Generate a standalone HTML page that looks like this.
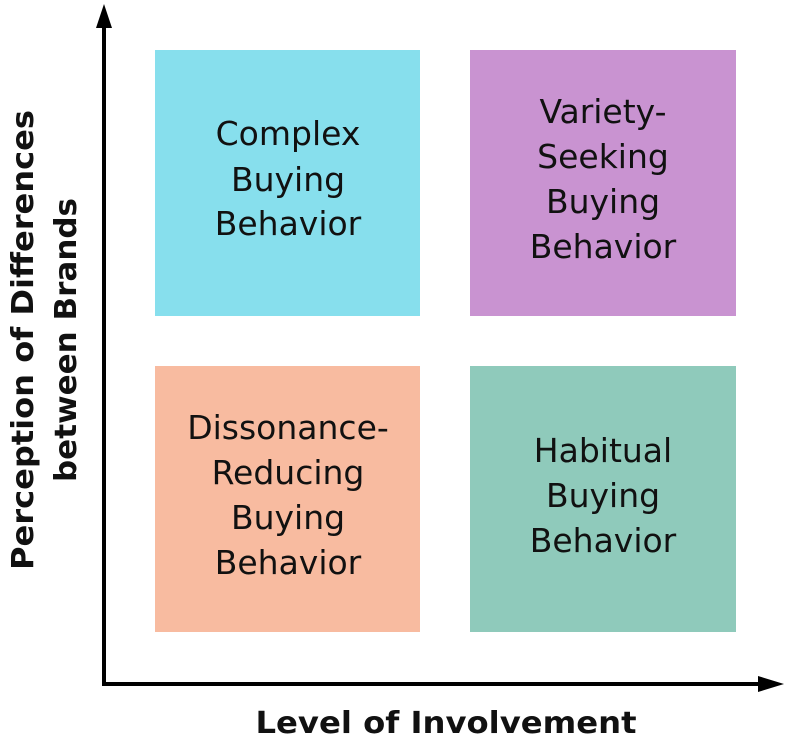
<!DOCTYPE html>
<html><head><meta charset="utf-8"><style>
html,body{margin:0;padding:0;background:#fff;}
svg{display:block;}
text{font-family:"DejaVu Sans","Liberation Sans",sans-serif;}
</style></head><body>
<svg width="787" height="751" viewBox="0 0 787 751">
<rect x="155" y="50" width="265" height="266" fill="#87dfed"/>
<rect x="470" y="50" width="266" height="266" fill="#c993d1"/>
<rect x="155" y="366" width="265" height="266" fill="#f8bba0"/>
<rect x="470" y="366" width="266" height="266" fill="#8fcabb"/>
<line x1="104" y1="684" x2="104" y2="25" stroke="#000" stroke-width="4"/>
<polygon points="104,4 96,28 112,28" fill="#000"/>
<line x1="102" y1="684" x2="760" y2="684" stroke="#000" stroke-width="4"/>
<polygon points="784,684 758,676 758,692" fill="#000"/>
<g font-size="33" fill="#111" text-anchor="middle">
<text x="288" y="145">Complex</text>
<text x="288" y="191">Buying</text>
<text x="288" y="235">Behavior</text>
<text x="603" y="123">Variety-</text>
<text x="603" y="168">Seeking</text>
<text x="603" y="213">Buying</text>
<text x="603" y="258">Behavior</text>
<text x="288" y="439">Dissonance-</text>
<text x="288" y="484">Reducing</text>
<text x="288" y="529">Buying</text>
<text x="288" y="574">Behavior</text>
<text x="603" y="462">Habitual</text>
<text x="603" y="507">Buying</text>
<text x="603" y="552">Behavior</text>
</g>
<g font-size="30" font-weight="bold" fill="#111" text-anchor="middle">
<text x="446" y="733" textLength="381" lengthAdjust="spacingAndGlyphs">Level of Involvement</text>
<text transform="translate(33,340) rotate(-90)" textLength="460" lengthAdjust="spacingAndGlyphs">Perception of Differences</text>
<text transform="translate(76,340) rotate(-90)" textLength="284" lengthAdjust="spacingAndGlyphs">between Brands</text>
</g>
</svg>
</body></html>
